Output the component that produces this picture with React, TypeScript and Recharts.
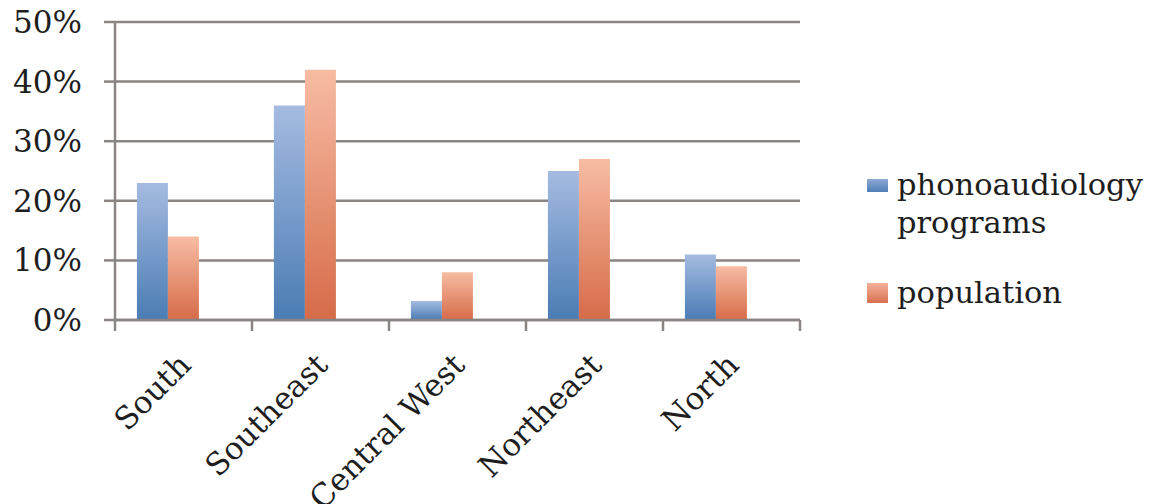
import React from 'react';
import { BarChart, Bar, XAxis, YAxis, CartesianGrid } from 'recharts';

const categories = ['South', 'Southeast', 'Central West', 'Northeast', 'North'];
const programs = [23, 36, 3.2, 25, 11];
const population = [14, 42, 8, 27, 9];
const yTicks = [0, 10, 20, 30, 40, 50];
const legendLines = [['phonoaudiology', 'programs'], ['population']];

const data = categories.map((c, i) => ({ name: c, programs: programs[i], population: population[i] }));

const FONT = '"DejaVu Serif", "Liberation Serif", serif';
const GRAY = '#8a8483';
const TEXT = '#1e1e1e';

const XTick = (props: any) => {
  const { x, y, payload, index, visibleTicksCount } = props;
  const half = payload && typeof payload.offset === 'number' ? payload.offset : 68.5;
  const axisY = y - 13;
  const isLast = index === (visibleTicksCount ?? categories.length) - 1;
  return (
    <g>
      <line x1={x - half} y1={axisY} x2={x - half} y2={axisY + 11} stroke={GRAY} strokeWidth={2.5} />
      {isLast && <line x1={x + half} y1={axisY} x2={x + half} y2={axisY + 11} stroke={GRAY} strokeWidth={2.5} />}
      <g transform={`translate(${x + 9},${y + 34})`}>
        <text transform="rotate(-45)" textAnchor="end" fontFamily={FONT} fontSize={31} fill={TEXT}>
          {payload.value}
        </text>
      </g>
    </g>
  );
};

const LegendBox = () => (
  <svg width={289} height={170} style={{ position: 'absolute', left: 860, top: 150 }}>
    <defs>
      <linearGradient id="lgBlue" x1="0" y1="0" x2="0" y2="1">
        <stop offset="0%" stopColor="#8fa9d6" />
        <stop offset="100%" stopColor="#4f7fb7" />
      </linearGradient>
      <linearGradient id="lgOrange" x1="0" y1="0" x2="0" y2="1">
        <stop offset="0%" stopColor="#f3b29a" />
        <stop offset="100%" stopColor="#d8704f" />
      </linearGradient>
    </defs>
    <rect x={7} y={29} width={21} height={13} fill="url(#lgBlue)" />
    <text x={37} y={45} fontFamily={FONT} fontSize={30.5} fill={TEXT}>{legendLines[0][0]}</text>
    <text x={37} y={83} fontFamily={FONT} fontSize={30.5} fill={TEXT}>{legendLines[0][1]}</text>
    <rect x={7} y={133} width={21} height={20} fill="url(#lgOrange)" />
    <text x={37} y={153} fontFamily={FONT} fontSize={30.5} fill={TEXT}>{legendLines[1][0]}</text>
  </svg>
);

export default function App() {
  return (
    <div style={{ position: 'absolute', left: 0, top: 0, width: 1149, height: 504, background: '#fff' }}>
      <BarChart
        width={1149}
        height={504}
        data={data}
        margin={{ top: 22, right: 349, bottom: 0, left: 0 }}
        barCategoryGap="16%"
        barGap={0}
      >
        <defs>
          <linearGradient id="gBlue" x1="0" y1="0" x2="0" y2="1">
            <stop offset="0%" stopColor="#a5bbe1" />
            <stop offset="100%" stopColor="#4a7cb4" />
          </linearGradient>
          <linearGradient id="gOrange" x1="0" y1="0" x2="0" y2="1">
            <stop offset="0%" stopColor="#f7bca3" />
            <stop offset="100%" stopColor="#d66b49" />
          </linearGradient>
        </defs>
        <CartesianGrid vertical={false} stroke={GRAY} strokeWidth={2.5} />
        <XAxis
          dataKey="name"
          interval={0}
          axisLine={{ stroke: GRAY, strokeWidth: 2.5 }}
          tickLine={false}
          tickSize={11}
          tickMargin={2}
          tick={<XTick />}
          height={184}
        />
        <YAxis
          domain={[0, 50]}
          ticks={yTicks}
          width={115}
          tickFormatter={(v: number) => `${v}%`}
          axisLine={{ stroke: GRAY, strokeWidth: 2.5 }}
          tickLine={{ stroke: GRAY, strokeWidth: 2.5 }}
          tickSize={11}
          tickMargin={22}
          tick={{ fontFamily: FONT, fontSize: 31, fill: TEXT }}
        />
        <Bar dataKey="programs" fill="url(#gBlue)" isAnimationActive={false} />
        <Bar dataKey="population" fill="url(#gOrange)" isAnimationActive={false} />
        {/* third, empty series slot as in the original spreadsheet chart (no values) */}
        <Bar dataKey="blank" fill="none" isAnimationActive={false} />
      </BarChart>
      <LegendBox />
    </div>
  );
}
